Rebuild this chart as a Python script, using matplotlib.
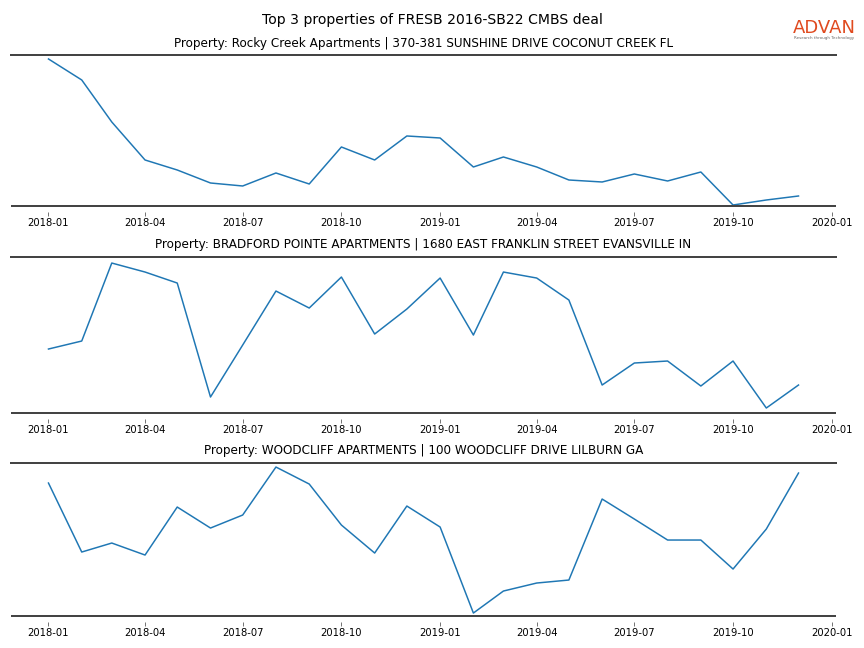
import pandas as pd
import matplotlib
matplotlib.use('Agg')
import matplotlib.pyplot as plt
import matplotlib.dates as mdates

# monthly dates
months = pd.date_range('2018-01-01', '2019-12-01', freq='MS')

titles = [
    'Property: Rocky Creek Apartments | 370-381 SUNSHINE DRIVE COCONUT CREEK FL',
    'Property: BRADFORD POINTE APARTMENTS | 1680 EAST FRANKLIN STREET EVANSVILLE IN',
    'Property: WOODCLIFF APARTMENTS | 100 WOODCLIFF DRIVE LILBURN GA',
]

rocky_creek = [151, 130, 88, 50, 40, 27, 24, 37, 26, 63, 50, 74,
               72, 43, 53, 43, 30, 28, 36, 29, 38, 5, 10, 14]
bradford_pointe = [71, 79, 157, 148, 137, 23, 75, 129, 112, 143, 86, 111,
                   142, 85, 148, 142, 120, 35, 57, 59, 34, 59, 12, 35]
woodcliff = [137, 68, 77, 65, 113, 92, 105, 153, 136, 95, 67, 114,
             93, 7, 29, 37, 40, 121, 101, 80, 80, 51, 91, 147]

series = [rocky_creek, bradford_pointe, woodcliff]
ylims = [(4, 154.5), (7.3, 163.3), (4.3, 157.3)]

# axes rectangles [left, bottom, width, height]
rects = [
    [0.0127, 0.6821, 0.9549, 0.2323],
    [0.0127, 0.3631, 0.9549, 0.2407],
    [0.0127, 0.0498, 0.9549, 0.2361],
]

fig = plt.figure(figsize=(12, 9), dpi=72)

for rect, vals, title, ylim in zip(rects, series, titles, ylims):
    ax = fig.add_axes(rect)
    ax.plot(months, vals, color='#1f77b4', linewidth=1.5)
    ax.set_ylim(*ylim)
    ax.set_title(title, fontsize=12, pad=8.5)
    for side in ['left', 'right', 'bottom']:
        ax.spines[side].set_visible(False)
    ax.spines['top'].set_color('#444444')
    ax.spines['top'].set_linewidth(2)
    # ticks sit a little below the bottom rule
    ax.spines['bottom'].set_position(('outward', 6))
    ax.plot([0, 1], [0, 0], transform=ax.transAxes, color='#444444',
            linewidth=2, clip_on=False, solid_capstyle='butt')
    ax.set_yticks([])
    ax.xaxis.set_major_locator(mdates.MonthLocator(bymonth=[1, 4, 7, 10]))
    ax.xaxis.set_major_formatter(mdates.DateFormatter('%Y-%m'))
    ax.tick_params(axis='x', labelsize=10, color='#555555', length=4, pad=2)

fig.suptitle('Top 3 properties of FRESB 2016-SB22 CMBS deal', fontsize=14, y=0.98)

# logo
fig.text(0.9543, 0.9568, 'ADVAN', color='#E04A1F', fontsize=18, ha='center', va='center')
fig.text(0.9543, 0.9414, 'Research through Technology', color='#666666', fontsize=4,
         ha='center', va='center')

plt.savefig('out.png', dpi=72)
